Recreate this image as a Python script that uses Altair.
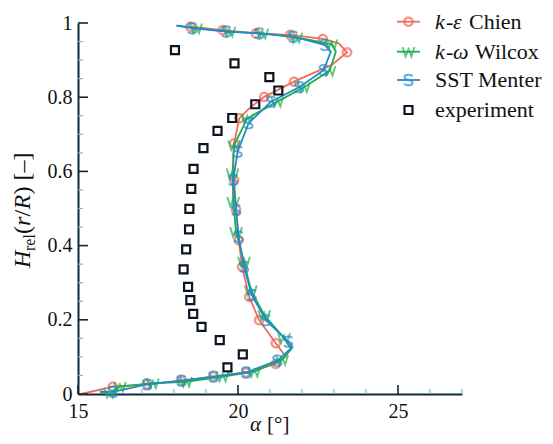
import altair as alt
import pandas as pd

# ---- data ----
x_chien = [15.10, 16.09, 17.16, 18.23, 19.23, 20.25, 21.18, 21.49, 21.18, 20.66, 20.35, 20.13, 20.02, 19.94, 19.88,
           19.85, 19.88, 20.04, 20.35, 20.82, 21.75, 22.93, 23.41, 23.15, 22.65, 21.63, 20.56, 19.52, 18.51]
y_chien = [0.000, 0.020, 0.026, 0.036, 0.047, 0.058, 0.081, 0.101, 0.137, 0.199, 0.262, 0.343, 0.415, 0.496, 0.577,
           0.640, 0.676, 0.743, 0.770, 0.801, 0.842, 0.887, 0.921, 0.945, 0.957, 0.968, 0.972, 0.981, 0.990]
mk_chien = [0, 1, 1, 1, 1, 1, 1, 0, 1, 1, 1, 1, 1, 1, 1, 0, 1, 1, 0, 1, 1, 0, 1, 0, 1, 1, 1, 1, 1]

x_wilcox = [15.70, 16.00, 16.31, 17.34, 18.38, 19.52, 20.51, 21.38, 21.66, 21.44, 20.82, 20.40, 20.19, 19.94,
            19.85, 19.83, 19.88, 20.29, 21.23, 22.06, 22.86, 23.06, 22.92, 21.82, 20.76, 19.73, 18.69, 18.10]
y_wilcox = [0.006, 0.004, 0.020, 0.029, 0.033, 0.047, 0.060, 0.092, 0.121, 0.151, 0.213, 0.280, 0.357, 0.437,
            0.518, 0.595, 0.671, 0.743, 0.788, 0.827, 0.871, 0.923, 0.943, 0.961, 0.972, 0.977, 0.986, 0.993]
mk_wilcox = [0, 1, 1, 1, 1, 1, 1, 1, 0, 1, 1, 1, 1, 1, 1, 1, 1, 1, 1, 1, 1, 0, 1, 1, 1, 1, 1, 0]

x_sst = [15.68, 16.09, 17.16, 18.23, 19.23, 20.25, 21.23, 21.70, 21.57, 20.87, 20.43, 20.19, 20.02, 19.94,
         19.85, 19.99, 20.33, 21.03, 21.91, 22.68, 22.90, 22.71, 21.72, 20.66, 19.63, 18.57, 18.07]
y_sst = [0.006, 0.006, 0.026, 0.036, 0.047, 0.058, 0.090, 0.126, 0.141, 0.199, 0.267, 0.343, 0.424, 0.496,
         0.577, 0.653, 0.730, 0.788, 0.827, 0.873, 0.923, 0.941, 0.963, 0.972, 0.977, 0.986, 0.993]
mk_sst = [0, 1, 1, 1, 1, 1, 1, 0, 1, 1, 1, 1, 1, 1, 1, 1, 1, 1, 1, 1, 0, 1, 1, 1, 1, 1, 0]

x_exp = [18.03, 19.89, 20.98, 21.26, 20.54, 19.82, 19.36, 18.92, 18.61, 18.54, 18.48, 18.47, 18.38, 18.30,
         18.44, 18.51, 18.60, 18.86, 19.43, 20.15, 19.67]
y_exp = [0.927, 0.891, 0.854, 0.818, 0.781, 0.744, 0.709, 0.663, 0.607, 0.553, 0.499, 0.444, 0.390, 0.336,
         0.289, 0.253, 0.216, 0.181, 0.145, 0.107, 0.072]

x_major = [15, 20, 25]
x_minor = [16, 17, 18, 19, 21, 22, 23, 24, 26, 27]
y_major = [0, 0.2, 0.4, 0.6, 0.8, 1.0]
y_minor = [0.05, 0.1, 0.15, 0.25, 0.3, 0.35, 0.45, 0.5, 0.55, 0.65, 0.7, 0.75, 0.85, 0.9, 0.95]

# ---- style ----
W, H = 384, 371
FONT = "Liberation Serif"
RED, GREEN, BLUE = "#F26B5B", "#1FAF4B", "#2389CF"
EXPC, AX, MINOR = "#0B1622", "#0E2A3A", "#7FB2D6"
W_PATH = "M-1,-0.8L-0.5,0.8L0,-0.4L0.5,0.8L1,-0.8"
S_PATH = "M0.7,-0.6C0.5,-1,-0.7,-1,-0.7,-0.45C-0.7,0.1,0.7,-0.1,0.7,0.45C0.7,1,-0.5,1,-0.7,0.6"
CIRC = dict(shape="circle", filled=False, strokeWidth=2.4, size=70)
GLYPH = dict(filled=False, strokeWidth=1.9, size=140)
SQ = dict(shape="square", filled=False, color=EXPC, strokeWidth=2.2, size=64, opacity=1)

xs = alt.Scale(domain=[15, 27], nice=False, zero=False)
ys = alt.Scale(domain=[0, 1], nice=False, zero=False)
xaxis = alt.Axis(values=x_major, ticks=False, grid=False, domainColor=AX, domainWidth=2, labelFont=FONT,
                 labelFontSize=20, labelColor="#111", labelPadding=7, labelFlush=False, title=None, format="d")
yaxis = alt.Axis(values=y_major, ticks=False, grid=False, domainColor=AX, domainWidth=2, labelFont=FONT,
                 labelFontSize=20, labelColor="#111", labelPadding=6, labelFlush=False, title=None, format="~g")


def frame(xv, yv, mk=None):
    d = pd.DataFrame({"i": range(len(xv)), "x": xv, "y": yv})
    d["m"] = mk if mk is not None else 1
    return d


def X(f="x"):
    return alt.X(f"{f}:Q", scale=xs, axis=xaxis)


def Y(f="y"):
    return alt.Y(f"{f}:Q", scale=ys, axis=yaxis)


layers = []
for xv, yv, mk, col, kind in [(x_chien, y_chien, mk_chien, RED, "circle"),
                              (x_wilcox, y_wilcox, mk_wilcox, GREEN, W_PATH),
                              (x_sst, y_sst, mk_sst, BLUE, S_PATH)]:
    d = frame(xv, yv, mk)
    layers.append(alt.Chart(d).mark_line(color=col, strokeWidth=1.8).encode(x=X(), y=Y(), order="i:Q"))
    dm = d[d["m"] == 1]
    if kind == "circle":
        pm = alt.Chart(dm).mark_point(color=col, **CIRC)
    else:
        pm = alt.Chart(dm).mark_point(shape=kind, color=col, **GLYPH)
    layers.append(pm.encode(x=X(), y=Y()))

layers.append(alt.Chart(frame(x_exp, y_exp)).mark_point(**SQ).encode(x=X(), y=Y()))

# inward ticks
layers.append(alt.Chart(pd.DataFrame({"t": x_major})).mark_rule(color=AX, strokeWidth=1.6).encode(
    x=X("t"), y=alt.value(H), y2=alt.value(H - 9)))
layers.append(alt.Chart(pd.DataFrame({"t": x_minor})).mark_rule(color=MINOR, strokeWidth=1.2).encode(
    x=X("t"), y=alt.value(H), y2=alt.value(H - 5)))
layers.append(alt.Chart(pd.DataFrame({"t": y_major})).mark_rule(color=AX, strokeWidth=1.6).encode(
    y=Y("t"), x=alt.value(0), x2=alt.value(10)))
layers.append(alt.Chart(pd.DataFrame({"t": y_minor})).mark_rule(color=MINOR, strokeWidth=1.2).encode(
    y=Y("t"), x=alt.value(0), x2=alt.value(5)))

one = pd.DataFrame({"a": [0]})


def txt(s, x, y, size=22, italic=False, angle=0, align="left", baseline="middle"):
    kw = dict(text=s, font=FONT, fontSize=size, color="#111", align=align, baseline=baseline)
    if italic:
        kw["fontStyle"] = "italic"
    if angle:
        kw["angle"] = angle
    return alt.Chart(one).mark_text(**kw).encode(x=alt.value(x), y=alt.value(y))


# legend
LX0, LX1, LM, LT = 319, 342, 330.5, 357
rows = [-1.3, 28.7, 57, 87]
for yy, col, kind in [(rows[0], RED, "circle"), (rows[1], GREEN, W_PATH), (rows[2], BLUE, S_PATH)]:
    layers.append(alt.Chart(one).mark_rule(color=col, strokeWidth=1.8).encode(
        x=alt.value(LX0), x2=alt.value(LX1), y=alt.value(yy)))
    if kind == "circle":
        mp = alt.Chart(one).mark_point(color=col, **CIRC)
    else:
        mp = alt.Chart(one).mark_point(shape=kind, color=col, **GLYPH)
    layers.append(mp.encode(x=alt.value(LM), y=alt.value(yy)))
layers.append(alt.Chart(one).mark_point(**SQ).encode(x=alt.value(LM), y=alt.value(rows[3])))

layers += [txt("k", LT, rows[0], italic=True), txt("-", LT + 11, rows[0]),
           txt("ε", LT + 18, rows[0], italic=True), txt("Chien", LT + 34, rows[0])]
layers += [txt("k", LT, rows[1], italic=True), txt("-", LT + 11, rows[1]),
           txt("ω", LT + 18, rows[1], italic=True), txt("Wilcox", LT + 40, rows[1])]
layers += [txt("SST Menter", LT, rows[2]), txt("experiment", LT, rows[3])]

# y title (rotated)
TX = -48
layers += [txt("H", TX, 245, size=24, italic=True, angle=270, baseline="alphabetic"),
           txt("rel", TX + 5, 228, size=16, angle=270, baseline="alphabetic"),
           txt("(", TX, 211, size=24, angle=270, baseline="alphabetic"),
           txt("r", TX, 203, size=24, italic=True, angle=270, baseline="alphabetic"),
           txt("/", TX, 193.5, size=24, angle=270, baseline="alphabetic"),
           txt("R", TX, 186.5, size=24, italic=True, angle=270, baseline="alphabetic"),
           txt(") [–]", TX, 171.5, size=24, angle=270, baseline="alphabetic")]

# x title
layers += [txt("α", 172, 408, size=21, italic=True, baseline="alphabetic"),
           txt("[°]", 189, 408, size=21, baseline="alphabetic")]

chart = alt.layer(*layers).properties(
    width=W, height=H,
    autosize=alt.AutoSizeParams(type="none"),
    padding={"left": 70, "top": 15, "right": 83, "bottom": 42},
    background="white",
).configure_view(stroke=None)

chart.save("out.html", embed_options={"renderer": "svg", "actions": False})
